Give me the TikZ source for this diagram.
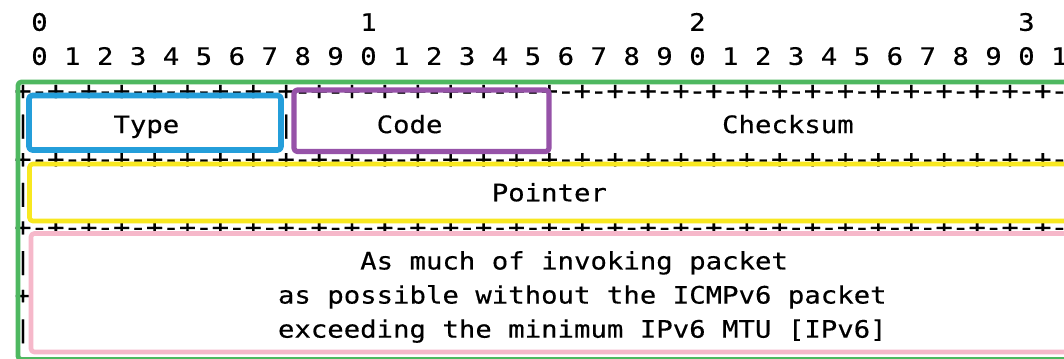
\documentclass[tikz,border=0pt]{standalone}
\usepackage{fontspec}
\newfontfamily\asciifont[FakeStretch=1.138,FakeBold=0.4]{DejaVu Sans Mono}

\definecolor{frameGreen}{RGB}{78,184,96}
\definecolor{typeBlue}{RGB}{36,158,218}
\definecolor{codePurple}{RGB}{150,82,168}
\definecolor{ptrYellow}{RGB}{248,232,32}
\definecolor{dataPink}{RGB}{246,184,202}

% column c, row r of the character grid (pixel units, y downwards)
\newcommand\colx[1]{23+16.45*(#1)}
\newcommand\rowy[1]{30.75+34.1*(#1)}
% a word that starts in column #3 of row #2
\newcommand\wordat[4]{\node[word] (#1) at ({\colx{#3}-8.225},{\rowy{#2}}) {#4};}

\begin{document}
\begin{tikzpicture}[x=0.75pt,y=-0.75pt,
  asciitext/.style={inner sep=0pt,outer sep=0pt,text=black,
    font=\asciifont\fontsize{18pt}{18pt}\selectfont},
  word/.style={asciitext,anchor=base west},
  glyph/.style={asciitext,anchor=base},
  rule glyph/.style={glyph,font=\asciifont\fontsize{19pt}{19pt}\selectfont},
  marker/.style={line join=round,rounded corners=2.5pt},
]
\useasboundingbox (0,0) rectangle (1064,358);
\clip (0,0) rectangle (1064,358);
\fill[white] (0,0) rectangle (1064,358);

% bit numbering
\node[glyph] (tens-0) at ({\colx{1}},{\rowy{0}}) {0};
\node[glyph] (tens-1) at ({\colx{21}},{\rowy{0}}) {1};
\node[glyph] (tens-2) at ({\colx{41}},{\rowy{0}}) {2};
\node[glyph] (tens-3) at ({\colx{61}},{\rowy{0}}) {3};
\foreach \b in {0,...,31} {
  \pgfmathtruncatemacro\d{mod(\b,10)}
  \node[glyph] (bit-\b) at ({\colx{2*\b+1}},{\rowy{1}}) {\d};
}

% +-+-+ separator lines
\foreach \r in {2,4,6} {
  \foreach \c in {0,...,32}
    \node[rule glyph] (plus-\r-\c) at ({\colx{2*\c}},{\rowy{\r}+0.5}) {+};
  \foreach \c in {0,...,31}
    \node[rule glyph] (dash-\r-\c) at ({\colx{2*\c+1}},{\rowy{\r}+0.5}) {-};
}

% Type / Code / Checksum
\wordat{bar-3-0}{3}{0}{|}
\wordat{type}{3}{6}{Type}
\wordat{bar-3-16}{3}{16}{|}
\wordat{code}{3}{22}{Code}
\wordat{bar-3-32}{3}{32}{|}
\wordat{checksum}{3}{43}{Checksum}
\wordat{bar-3-64}{3}{64}{|}

% Pointer
\wordat{bar-5-0}{5}{0}{|}
\wordat{pointer}{5}{29}{Pointer}
\wordat{bar-5-64}{5}{64}{|}

% invoking packet
\wordat{bar-7-0}{7}{0}{|}
\wordat{w7a}{7}{21}{As}
\wordat{w7b}{7}{24}{much}
\wordat{w7c}{7}{29}{of}
\wordat{w7d}{7}{32}{invoking}
\wordat{w7e}{7}{41}{packet}
\wordat{bar-7-64}{7}{64}{|}

\wordat{plus-8-0}{8}{0}{+}
\wordat{w8a}{8}{16}{as}
\wordat{w8b}{8}{19}{possible}
\wordat{w8c}{8}{28}{without}
\wordat{w8d}{8}{36}{the}
\wordat{w8e}{8}{40}{ICMPv6}
\wordat{w8f}{8}{47}{packet}
\wordat{plus-8-64}{8}{64}{+}

\wordat{bar-9-0}{9}{0}{|}
\wordat{w9a}{9}{16}{exceeding}
\wordat{w9b}{9}{26}{the}
\wordat{w9c}{9}{30}{minimum}
\wordat{w9d}{9}{38}{IPv6}
\wordat{w9e}{9}{43}{MTU}
\wordat{w9f}{9}{47}{[IPv6]}
\wordat{bar-9-64}{9}{64}{|}

% highlighted fields
\draw[marker,frameGreen,line width=3.6pt] (18,82) rectangle (1090,359.5);
\draw[marker,typeBlue,line width=4.2pt] (29,95.5) rectangle (281,150);
\draw[marker,codePurple,line width=3.9pt] (294,90) rectangle (549,151.5);
\draw[marker,ptrYellow,line width=3.5pt] (29.5,164) rectangle (1090,221);
\draw[marker,dataPink,line width=3.5pt] (31,233.5) rectangle (1090,352);
\end{tikzpicture}
\end{document}
